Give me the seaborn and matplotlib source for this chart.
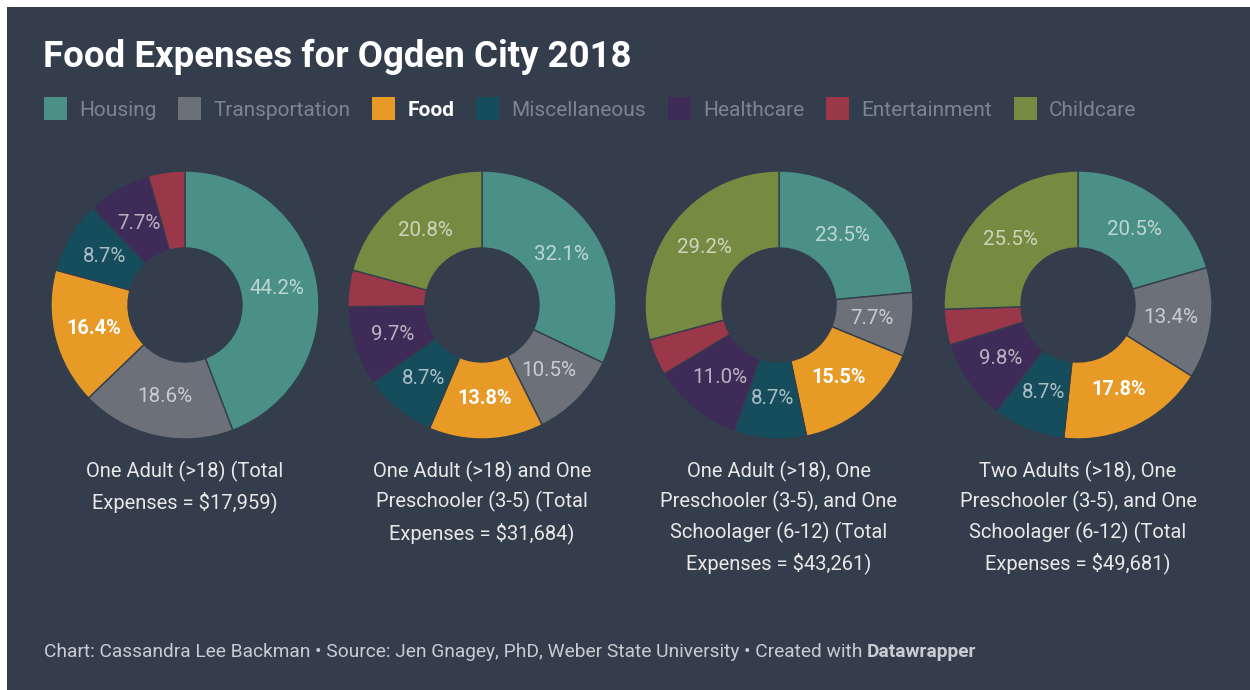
import matplotlib
matplotlib.use('Agg')
import matplotlib.pyplot as plt
import numpy as np
import seaborn as sns
from matplotlib.patches import Rectangle

# Data (percent of total expenses)
categories = ['Housing', 'Transportation', 'Food', 'Miscellaneous',
              'Healthcare', 'Entertainment', 'Childcare']
housing = [44.2, 32.1, 23.5, 20.5]
transportation = [18.6, 10.5, 7.7, 13.4]
food = [16.4, 13.8, 15.5, 17.8]
miscellaneous = [8.7, 8.7, 8.7, 8.7]
healthcare = [7.7, 9.7, 11.0, 9.8]
entertainment = [4.4, 4.4, 4.4, 4.3]
childcare = [0.0, 20.8, 29.2, 25.5]

captions = [
    'One Adult (>18) (Total\nExpenses = $17,959)',
    'One Adult (>18) and One\nPreschooler (3-5) (Total\nExpenses = $31,684)',
    'One Adult (>18), One\nPreschooler (3-5), and One\nSchoolager (6-12) (Total\nExpenses = $43,261)',
    'Two Adults (>18), One\nPreschooler (3-5), and One\nSchoolager (6-12) (Total\nExpenses = $49,681)',
]

colors = ['#4a9086', '#6c7079', '#e89a27', '#164d5c', '#3f2b58', '#9a3748', '#768b42']
BG = '#333d4c'

sns.set_theme(style='dark')
plt.rcParams['font.family'] = ['Roboto', 'DejaVu Sans']

W, H = 1250, 690
fig = plt.figure(figsize=(W / 100, H / 100), dpi=100, facecolor='white')

# dark canvas (reference has a thin white strip top/left)
fig.patches.append(Rectangle((7 / W, 0), 1 - 7 / W, 1 - 7 / H, transform=fig.transFigure,
                             facecolor=BG, edgecolor='none', zorder=-10))


def fx(px):
    return px / W


def fy(py):
    return 1 - py / H


# title
fig.text(fx(43), fy(57), 'Food Expenses for Ogden City 2018', color='white',
         fontsize=26.4, fontweight='bold', va='center', ha='left')

# legend row
fig.canvas.draw()
renderer = fig.canvas.get_renderer()
x = 44
for i, cat in enumerate(categories):
    fig.patches.append(Rectangle((fx(x), fy(120)), fx(23), 23 / H, transform=fig.transFigure,
                                 facecolor=colors[i], edgecolor='none', zorder=1))
    is_food = cat == 'Food'
    t = fig.text(fx(x + 35), fy(110), cat, fontsize=15,
                 color='white' if is_food else '#7d8490',
                 fontweight='bold' if is_food else 'normal', va='center', ha='left')
    w = t.get_window_extent(renderer).width
    x = x + 35 + w + 22

# donuts
centers = [185, 482, 779, 1078]
cy = 305
r_out = 134
r_in = 57
for k, cx in enumerate(centers):
    vals = [housing[k], transportation[k], food[k], miscellaneous[k],
            healthcare[k], entertainment[k], childcare[k]]
    ax = fig.add_axes([fx(cx - r_out), fy(cy + r_out), fx(2 * r_out), 2 * r_out / H])
    ax.set_facecolor('none')
    ax.axis('off')
    idx = [i for i, v in enumerate(vals) if v > 0]
    wedges, _ = ax.pie([vals[i] for i in idx], colors=[colors[i] for i in idx],
                       startangle=90, counterclock=False, radius=1,
                       wedgeprops=dict(width=(r_out - r_in) / r_out, edgecolor=BG, linewidth=1))
    for w_, i in zip(wedges, idx):
        if vals[i] < 5:
            continue
        ang = np.deg2rad((w_.theta1 + w_.theta2) / 2)
        rr = 0.7
        is_food = categories[i] == 'Food'
        ax.text(rr * np.cos(ang), rr * np.sin(ang), f'{vals[i]:.1f}%',
                ha='center', va='center',
                fontsize=14.3 if is_food else 14.8,
                color='white' if is_food else (1, 1, 1, 0.64),
                fontweight='bold' if is_food else 'normal')
    ax.set_xlim(-1, 1)
    ax.set_ylim(-1, 1)
    fig.text(fx(cx), fy(461), captions[k], ha='center', va='top', fontsize=14.5,
             color='#e8e8e8', linespacing=1.56)

# footer
foot = 'Chart: Cassandra Lee Backman \u2022 Source: Jen Gnagey, PhD, Weber State University \u2022 Created with '
t = fig.text(fx(44), fy(652), foot, fontsize=13.75, color='#c9cdd3', va='center', ha='left')
fig.canvas.draw()
wf = t.get_window_extent(fig.canvas.get_renderer()).width
fig.text(fx(44 + wf), fy(652), 'Datawrapper', fontsize=13.75, color='#c9cdd3',
         fontweight='bold', va='center', ha='left')

fig.savefig('out.png', dpi=100, facecolor=fig.get_facecolor())
